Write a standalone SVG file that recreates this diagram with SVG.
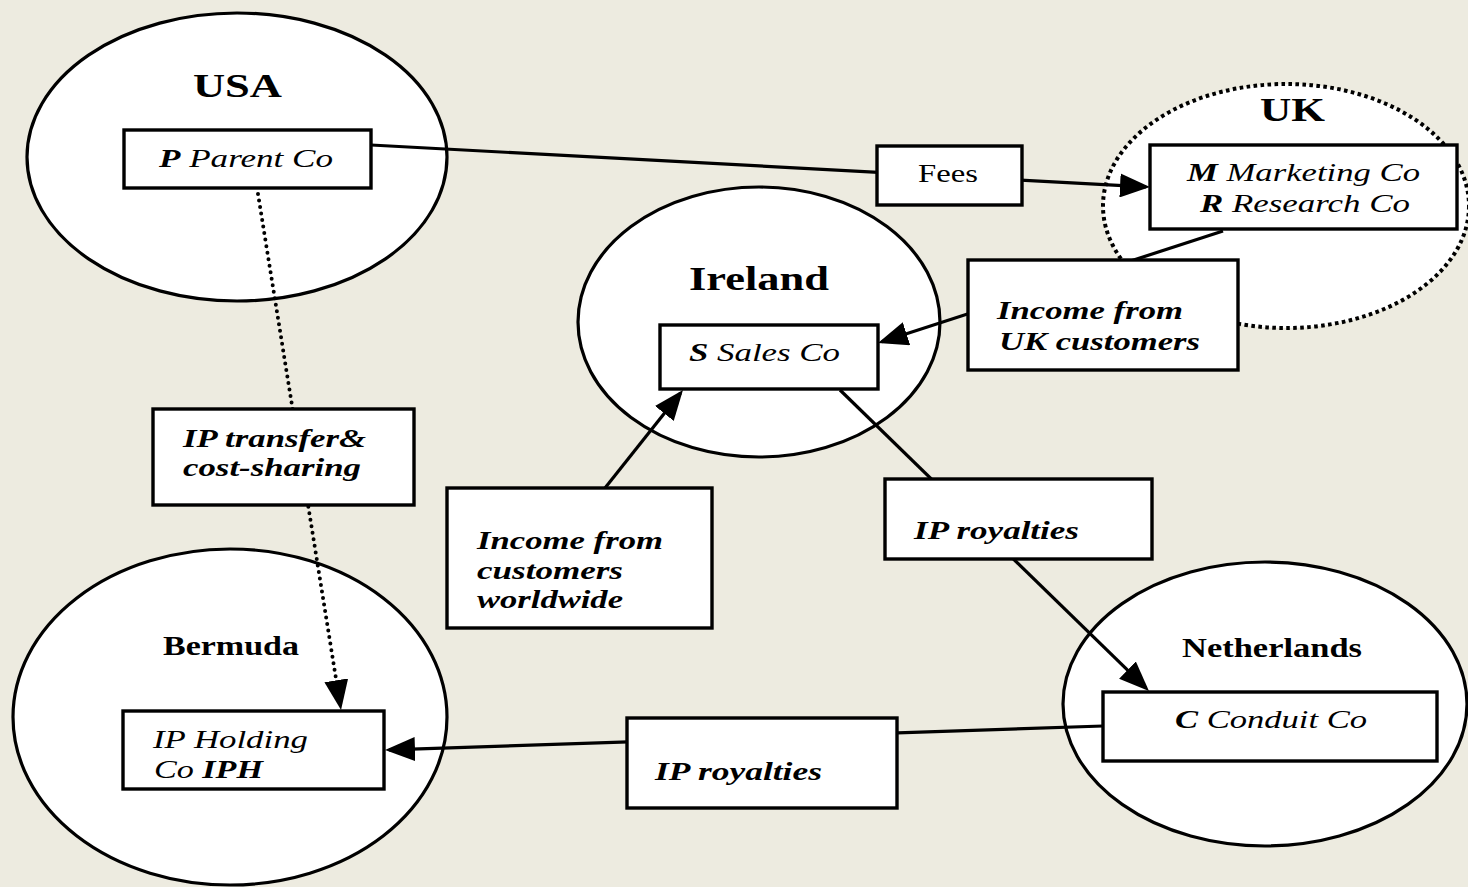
<svg xmlns="http://www.w3.org/2000/svg" width="1468" height="887" viewBox="0 0 1468 887">
<style>
text{font-family:"Liberation Serif","Times New Roman",serif;fill:#000}
.country{fill:#fff;stroke:#000;stroke-width:3.2}
.dotted-country{fill:#fff;stroke:#000;stroke-width:4;stroke-dasharray:3.6 3.4}
.box{fill:#fff;stroke:#000;stroke-width:3.4}
.title{font-weight:bold;font-size:34px}
.sub{font-weight:bold;font-size:28px}
.it{font-style:italic;font-size:26px}
.bi{font-style:italic;font-weight:bold;font-size:26px}
.reg{font-size:26px}
.b{font-weight:bold}
.conn{stroke:#000;stroke-width:3.2;fill:none}
.dots{stroke:#000;stroke-width:4;fill:none;stroke-dasharray:0 6.6;stroke-linecap:round}
</style>
<defs>
<marker id="arrow" viewBox="0 0 30 24" refX="26" refY="12" markerWidth="30" markerHeight="24" markerUnits="userSpaceOnUse" orient="auto">
<path d="M0,0 L30,12 L0,24 Z" fill="#000"/>
</marker>
</defs>
<rect x="0" y="0" width="1468" height="887" fill="#EDEBE0"/>

<g id="usa">
<ellipse class="country" cx="237" cy="157" rx="210" ry="144"/>
<text class="title" x="193" y="97" textLength="89" lengthAdjust="spacingAndGlyphs">USA</text>
</g>
<g id="uk">
<ellipse class="dotted-country" cx="1286" cy="206" rx="183" ry="122"/>
<text class="title" x="1260" y="121" textLength="65" lengthAdjust="spacingAndGlyphs">UK</text>
</g>
<g id="ireland">
<ellipse class="country" cx="759" cy="322" rx="181" ry="135"/>
<text class="title" x="689" y="290" textLength="140" lengthAdjust="spacingAndGlyphs">Ireland</text>
</g>
<g id="bermuda">
<ellipse class="country" cx="230" cy="717" rx="217" ry="168"/>
<text class="sub" x="163" y="655" textLength="136" lengthAdjust="spacingAndGlyphs">Bermuda</text>
</g>
<g id="netherlands">
<ellipse class="country" cx="1265" cy="704" rx="202" ry="142"/>
<text class="sub" x="1182" y="657" textLength="180" lengthAdjust="spacingAndGlyphs">Netherlands</text>
</g>

<g id="connectors">
<line class="conn" x1="371" y1="145" x2="1146" y2="186.8" marker-end="url(#arrow)"/>
<line class="conn" x1="1223" y1="231" x2="881.8" y2="341.8" marker-end="url(#arrow)"/>
<line class="conn" x1="605" y1="488" x2="680.5" y2="393.1" marker-end="url(#arrow)"/>
<line class="conn" x1="840" y1="390" x2="1146.1" y2="688.2" marker-end="url(#arrow)"/>
<line class="conn" x1="1103" y1="726" x2="389" y2="749.9" marker-end="url(#arrow)"/>
<line class="dots" x1="258" y1="194" x2="340.4" y2="706" marker-end="url(#arrow)"/>
</g>

<g id="parent-co">
<rect class="box" x="124" y="130" width="247" height="58"/>
<text class="it" x="159" y="167" textLength="174" lengthAdjust="spacingAndGlyphs"><tspan class="b">P</tspan> Parent Co</text>
</g>
<g id="fees">
<rect class="box" x="877" y="146" width="145" height="59"/>
<text class="reg" x="918" y="182" textLength="60" lengthAdjust="spacingAndGlyphs">Fees</text>
</g>
<g id="marketing-research-co">
<rect class="box" x="1150" y="145" width="307" height="84"/>
<text class="it" x="1187" y="181" textLength="233" lengthAdjust="spacingAndGlyphs"><tspan class="b">M</tspan> Marketing Co</text>
<text class="it" x="1200" y="212" textLength="210" lengthAdjust="spacingAndGlyphs"><tspan class="b">R</tspan> Research Co</text>
</g>
<g id="income-uk">
<rect class="box" x="968" y="260" width="270" height="110"/>
<text class="bi" x="997" y="319" textLength="186" lengthAdjust="spacingAndGlyphs">Income from</text>
<text class="bi" x="999" y="350" textLength="201" lengthAdjust="spacingAndGlyphs">UK customers</text>
</g>
<g id="sales-co">
<rect class="box" x="660" y="325" width="218" height="64"/>
<text class="it" x="689" y="361" textLength="151" lengthAdjust="spacingAndGlyphs"><tspan class="b">S</tspan> Sales Co</text>
</g>
<g id="income-worldwide">
<rect class="box" x="447" y="488" width="265" height="140"/>
<text class="bi" x="477" y="549" textLength="186" lengthAdjust="spacingAndGlyphs">Income from</text>
<text class="bi" x="477" y="579" textLength="146" lengthAdjust="spacingAndGlyphs">customers</text>
<text class="bi" x="477" y="608" textLength="146" lengthAdjust="spacingAndGlyphs">worldwide</text>
</g>
<g id="ip-royalties-1">
<rect class="box" x="885" y="479" width="267" height="80"/>
<text class="bi" x="914" y="539" textLength="165" lengthAdjust="spacingAndGlyphs">IP royalties</text>
</g>
<g id="conduit-co">
<rect class="box" x="1103" y="692" width="334" height="69"/>
<text class="it" x="1175" y="728" textLength="192" lengthAdjust="spacingAndGlyphs"><tspan class="b">C</tspan> Conduit Co</text>
</g>
<g id="ip-holding-co">
<rect class="box" x="123" y="711" width="261" height="78"/>
<text class="it" x="153" y="748" textLength="155" lengthAdjust="spacingAndGlyphs">IP Holding</text>
<text class="it" x="154" y="778" textLength="109" lengthAdjust="spacingAndGlyphs">Co <tspan class="b">IPH</tspan></text>
</g>
<g id="ip-royalties-2">
<rect class="box" x="627" y="718" width="270" height="90"/>
<text class="bi" x="655" y="780" textLength="167" lengthAdjust="spacingAndGlyphs">IP royalties</text>
</g>
<g id="ip-transfer">
<rect class="box" x="153" y="409" width="261" height="96"/>
<text class="bi" x="183" y="447" textLength="183" lengthAdjust="spacingAndGlyphs">IP transfer&amp;</text>
<text class="bi" x="183" y="476" textLength="178" lengthAdjust="spacingAndGlyphs">cost-sharing</text>
</g>
</svg>
